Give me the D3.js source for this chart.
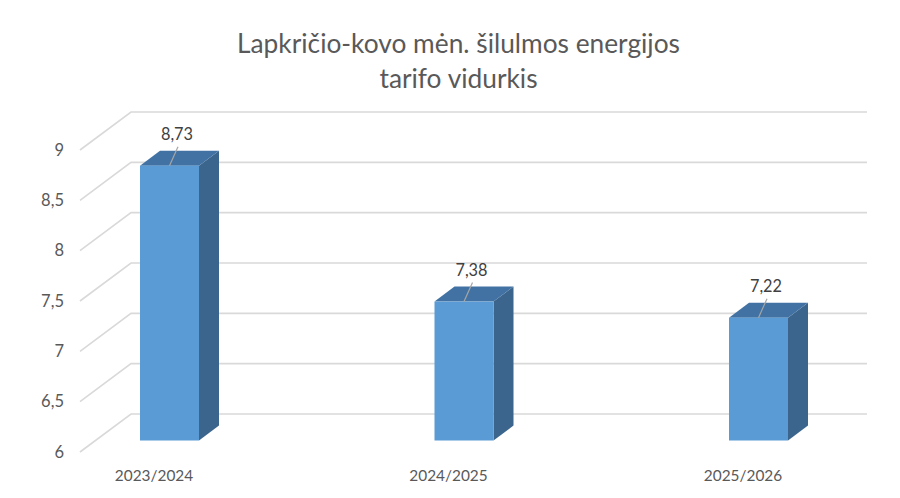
<!DOCTYPE html>
<html>
<head>
<meta charset="utf-8">
<script src="https://cdnjs.cloudflare.com/ajax/libs/d3/7.8.5/d3.min.js"></script>
<style>
  html, body { margin: 0; padding: 0; background: #fff; }
  text { font-family: Lato, "Open Sans", sans-serif; }
</style>
</head>
<body>
<script>
var categories = ["2023/2024", "2024/2025", "2025/2026"];
var values = [8.73, 7.38, 7.22];
var valueLabels = ["8,73", "7,38", "7,22"];
var yTicks = [6, 6.5, 7, 7.5, 8, 8.5, 9];
var yTickLabels = ["6", "6,5", "7", "7,5", "8", "8,5", "9"];
var titleLines = ["Lapkričio-kovo mėn. šilulmos energijos", "tarifo vidurkis"];

var w = 900, h = 498;

var svg = d3.select("body").append("svg")
  .attr("width", w)
  .attr("height", h)
  .style("display", "block");

// front edge of the 3d floor/wall
var y = d3.scaleLinear().domain([6, 9]).range([452, 150]);
var wallDx = 51, wallDy = -38;
var wallRight = 867;

// bars sit a little way into the depth
var x = d3.scalePoint().domain(categories).range([169.5, 758.5]);
var barW = 59, barDx = 20, barDy = -15;
var barShiftY = -11.5;

// walls
var grid = svg.append("g").attr("fill", "none").attr("stroke", "#d9d9d9").attr("stroke-width", 1.6);
grid.selectAll("path")
  .data(yTicks)
  .enter()
  .append("path")
  .attr("d", function(d) {
    return "M80," + y(d) + "L" + (80 + wallDx) + "," + (y(d) + wallDy) + "H" + wallRight;
  });

// axis labels
svg.selectAll(".ytick")
  .data(yTicks)
  .enter()
  .append("text")
  .attr("class", "ytick")
  .attr("x", 64)
  .attr("y", function(d) { return y(d) + 5.7; })
  .attr("text-anchor", "end")
  .attr("font-size", 16.5)
  .attr("fill", "#595959")
  .text(function(d, i) { return yTickLabels[i]; });

svg.selectAll(".xtick")
  .data(categories)
  .enter()
  .append("text")
  .attr("class", "xtick")
  .attr("x", function(d) { return x(d) - 15.5; })
  .attr("y", 480.5)
  .attr("text-anchor", "middle")
  .attr("font-size", 15.4)
  .attr("fill", "#595959")
  .text(function(d) { return d; });

// bars
var bars = svg.selectAll(".bar")
  .data(values)
  .enter()
  .append("g")
  .attr("class", "bar");

function cx(i) { return x(categories[i]); }
function barTop(d) { return y(d) + barShiftY; }
var barBottom = y(6) + barShiftY;

bars.append("path")
  .attr("fill", "#3b658c")
  .attr("d", function(d, i) {
    var r = cx(i) + barW / 2;
    return "M" + r + "," + barTop(d) + "l" + barDx + "," + barDy + "V" + (barBottom + barDy) + "l" + (-barDx) + "," + (-barDy) + "Z";
  });

bars.append("path")
  .attr("fill", "#4272a3")
  .attr("d", function(d, i) {
    var l = cx(i) - barW / 2;
    return "M" + l + "," + barTop(d) + "l" + barDx + "," + barDy + "h" + barW + "l" + (-barDx) + "," + (-barDy) + "Z";
  });

bars.append("rect")
  .attr("fill", "#5b9bd5")
  .attr("x", function(d, i) { return cx(i) - barW / 2; })
  .attr("y", function(d) { return barTop(d); })
  .attr("width", barW)
  .attr("height", function(d) { return barBottom - barTop(d); });

// leader lines and value labels
bars.append("line")
  .attr("stroke", "#a6a6a6")
  .attr("stroke-width", 1.2)
  .attr("x1", function(d, i) { return cx(i); })
  .attr("y1", function(d) { return barTop(d); })
  .attr("x2", function(d, i) { return cx(i) + 8.5; })
  .attr("y2", function(d) { return barTop(d) - 19; });

bars.append("text")
  .attr("x", function(d, i) { return cx(i) + 7.5; })
  .attr("y", function(d) { return barTop(d) - 26; })
  .attr("text-anchor", "middle")
  .attr("font-size", 16.3)
  .attr("fill", "#404040")
  .text(function(d, i) { return valueLabels[i]; });

// title
svg.selectAll(".title")
  .data(titleLines)
  .enter()
  .append("text")
  .attr("class", "title")
  .attr("x", 458.5)
  .attr("y", function(d, i) { return 53 + i * 34.5; })
  .attr("text-anchor", "middle")
  .attr("font-size", 26.3)
  .attr("fill", "#595959")
  .text(function(d) { return d; });
</script>
</body>
</html>
